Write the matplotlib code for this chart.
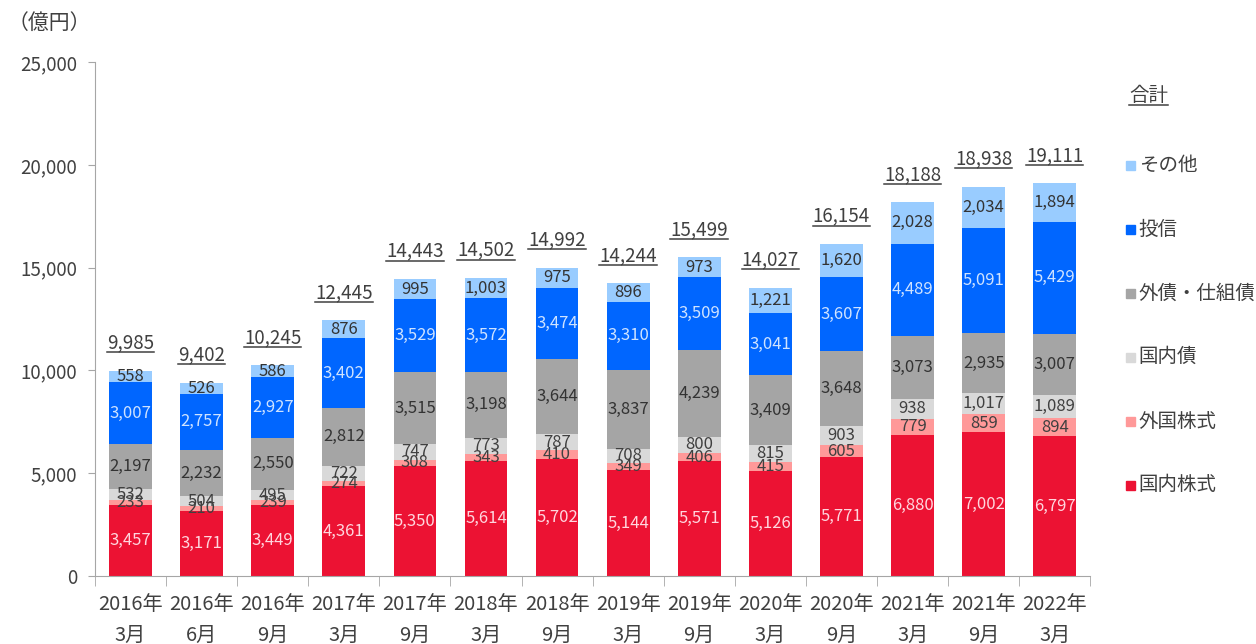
import matplotlib
matplotlib.use("Agg")
import matplotlib.pyplot as plt
import numpy as np
from matplotlib.lines import Line2D
from matplotlib.patches import Rectangle

plt.rcParams['font.family'] = ['Noto Sans CJK JP', 'DejaVu Sans']

periods = ["2016年\n3月", "2016年\n6月", "2016年\n9月", "2017年\n3月", "2017年\n9月",
           "2018年\n3月", "2018年\n9月", "2019年\n3月", "2019年\n9月", "2020年\n3月",
           "2020年\n9月", "2021年\n3月", "2021年\n9月", "2022年\n3月"]

dom_stock = [3457, 3171, 3449, 4361, 5350, 5614, 5702, 5144, 5571, 5126, 5771, 6880, 7002, 6797]
for_stock = [233, 210, 239, 274, 308, 343, 410, 349, 406, 415, 605, 779, 859, 894]
dom_bond = [532, 504, 495, 722, 747, 773, 787, 708, 800, 815, 903, 938, 1017, 1089]
for_bond = [2197, 2232, 2550, 2812, 3515, 3198, 3644, 3837, 4239, 3409, 3648, 3073, 2935, 3007]
funds = [3007, 2757, 2927, 3402, 3529, 3572, 3474, 3310, 3509, 3041, 3607, 4489, 5091, 5429]
other = [558, 526, 586, 876, 995, 1003, 975, 896, 973, 1221, 1620, 2028, 2034, 1894]
totals = [9985, 9402, 10245, 12445, 14443, 14502, 14992, 14244, 15499, 14027, 16154, 18188, 18938, 19111]

series = [
    ("国内株式", dom_stock, "#EC1233", "#FFD6DE"),
    ("外国株式", for_stock, "#FF9999", "#404040"),
    ("国内債", dom_bond, "#D9D9D9", "#404040"),
    ("外債・仕組債", for_bond, "#A5A5A5", "#333333"),
    ("投信", funds, "#0066FF", "#CFE3FF"),
    ("その他", other, "#99CCFF", "#333333"),
]

fig = plt.figure(figsize=(12.56, 6.44), dpi=100)
ax = fig.add_axes([0.0756, 0.1056, 0.7925, 0.7981])

x = np.arange(len(periods))
bottom = np.zeros(len(periods))
for name, vals, color, tcolor in series:
    vals = np.array(vals, dtype=float)
    ax.bar(x, vals, 0.6, bottom=bottom, color=color, label=name, zorder=2)
    for i, v in enumerate(vals):
        ax.text(x[i], bottom[i] + v / 2, f"{int(v):,}", ha="center", va="center",
                fontsize=12, color=tcolor, zorder=3)
    bottom += vals

tot_texts = []
for i, t in enumerate(totals):
    tt = ax.annotate(f"{t:,}", (x[i], bottom[i]), xytext=(0, 20), textcoords="offset points",
                     ha="center", va="center", fontsize=13.5, color="#404040")
    tot_texts.append(tt)

ax.set_xlim(-0.5, len(periods) - 0.5)
ax.set_ylim(0, 25000)
ax.set_yticks(np.arange(0, 25001, 5000))
ax.set_yticklabels([f"{v:,}" for v in range(0, 25001, 5000)])
ax.set_xticks(x)
ax.set_xticklabels(periods, linespacing=1.6)
ax.set_xticks(np.arange(-0.5, len(periods), 1), minor=True)
ax.tick_params(axis="x", which="major", length=0, pad=13, labelsize=14.5, labelcolor="#404040")
ax.tick_params(axis="x", which="minor", length=7, color="#A6A6A6", direction="out")
ax.tick_params(axis="y", length=5, color="#A6A6A6", labelsize=13.5, labelcolor="#404040", pad=8)
for s in ["top", "right"]:
    ax.spines[s].set_visible(False)
for s in ["left", "bottom"]:
    ax.spines[s].set_color("#A6A6A6")

fig.text(0.006, 0.964, "（億円）", fontsize=15, color="#404040", va="center")

# legend, drawn top-down like the reference
leg_y = [0.744, 0.644, 0.545, 0.446, 0.346, 0.247]
for (name, vals, color, tcolor), yy in zip(series[::-1], leg_y):
    fig.add_artist(Rectangle((0.8965, yy - 0.008), 0.0072, 0.014, color=color,
                             transform=fig.transFigure))
    fig.text(0.9065, yy, name, fontsize=14, color="#404040", va="center")
head = fig.text(0.899, 0.851, "合計", fontsize=14, color="#404040", va="center")

# underline totals and header
fig.canvas.draw()
r = fig.canvas.get_renderer()
for t in tot_texts + [head]:
    bb = t.get_window_extent(r)
    fig.add_artist(Line2D([bb.x0 / 1256, bb.x1 / 1256], [(bb.y0 + 1) / 644, (bb.y0 + 1) / 644],
                          color="#404040", lw=1.1, transform=fig.transFigure))

fig.savefig("out.png", dpi=100)
